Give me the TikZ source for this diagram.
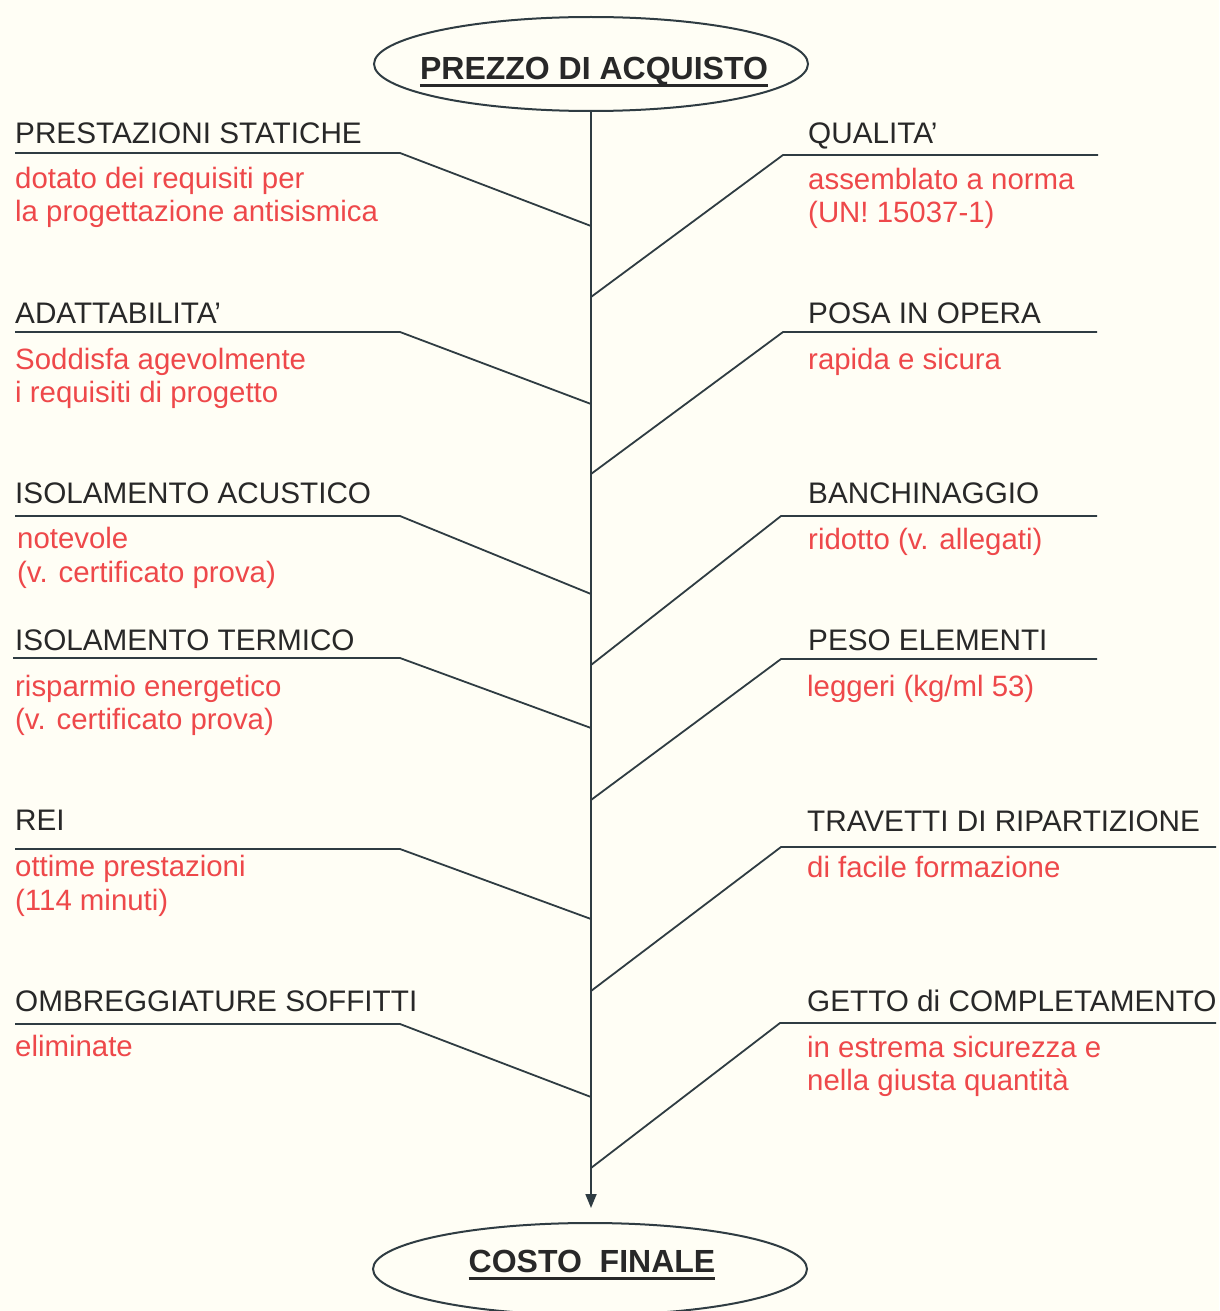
\documentclass[tikz,border=0pt]{standalone}
\usepackage{fontspec}
\setmainfont{Liberation Sans}
\usetikzlibrary{shapes.geometric,arrows.meta}
\definecolor{bg}{RGB}{255,254,245}
\definecolor{ln}{RGB}{47,60,66}
\definecolor{tx}{RGB}{40,40,40}
\definecolor{rd}{RGB}{238,72,74}
\begin{document}
\begin{tikzpicture}[x=1pt,y=-1pt,
 hdr/.style={anchor=base west,inner sep=0pt,text=tx,font=\fontsize{29.7}{34}\selectfont},
 note/.style={anchor=base west,inner sep=0pt,text=rd,font=\fontsize{29.4}{34}\selectfont},
 branch/.style={draw=ln,line width=1.8pt},
 oval/.style={ellipse,draw=ln,line width=2pt,minimum width=434pt,inner sep=0pt},
 title/.style={anchor=base,inner sep=0pt,text=tx,font=\bfseries\fontsize{32}{38}\selectfont},
 uline/.style={draw=tx,line width=3pt}]
\fill[bg] (0,0) rectangle (1219,1311);
\useasboundingbox (0,0) rectangle (1219,1311);

% ovals
\node[oval,minimum height=94pt] (top) at (591,64) {};
\node[title] (ttop) at (594,80) {PREZZO DI ACQUISTO};
\draw[uline] ([yshift=-6pt]ttop.base west) -- ([yshift=-6pt]ttop.base east);
\node[oval,minimum height=92pt] (bot) at (590,1269) {};
\node[title] (tbot) at (592,1272) {COSTO\ \ FINALE};
\draw[uline] ([yshift=-6pt]tbot.base west) -- ([yshift=-6pt]tbot.base east);

% spine
\coordinate (tip) at (591,1208);
\draw[branch,-{Triangle[width=11pt,length=14pt]}] (top.south) -- (tip);

% left branches
\coordinate (l1a) at (15,153);  \coordinate (l1b) at (400,153);  \coordinate (l1c) at (591,226);
\coordinate (l2a) at (15,332);  \coordinate (l2b) at (400,332);  \coordinate (l2c) at (591,404);
\coordinate (l3a) at (15,516);  \coordinate (l3b) at (400,516);  \coordinate (l3c) at (591,594);
\coordinate (l4a) at (13,658);  \coordinate (l4b) at (400,658);  \coordinate (l4c) at (591,728);
\coordinate (l5a) at (15,849);  \coordinate (l5b) at (400,849);  \coordinate (l5c) at (591,919);
\coordinate (l6a) at (15,1024); \coordinate (l6b) at (400,1024); \coordinate (l6c) at (591,1097);
\foreach \i in {1,...,6} {\draw[branch] (l\i a) -- (l\i b) -- (l\i c);}

% right branches
\coordinate (r1a) at (591,297);  \coordinate (r1b) at (783,155);  \coordinate (r1c) at (1098,155);
\coordinate (r2a) at (591,474);  \coordinate (r2b) at (783,332);  \coordinate (r2c) at (1097,332);
\coordinate (r3a) at (591,665);  \coordinate (r3b) at (781,516);  \coordinate (r3c) at (1097,516);
\coordinate (r4a) at (591,800);  \coordinate (r4b) at (781,659);  \coordinate (r4c) at (1097,659);
\coordinate (r5a) at (591,991);  \coordinate (r5b) at (781,847);  \coordinate (r5c) at (1216,847);
\coordinate (r6a) at (591,1168); \coordinate (r6b) at (780,1023); \coordinate (r6c) at (1216,1023);
\foreach \i in {1,...,6} {\draw[branch] (r\i a) -- (r\i b) -- (r\i c);}

% left texts
\node[hdr]  (lh1)  at (15,143) {PRESTAZIONI STATICHE};
\node[note] (ln1a) at (15,188) {dotato dei requisiti per};
\node[note] (ln1b) at (15,221) {la progettazione antisismica};
\node[hdr]  (lh2)  at (15,323) {ADATTABILITA’};
\node[note] (ln2a) at (15,369) {Soddisfa agevolmente};
\node[note] (ln2b) at (15,402) {i requisiti di progetto};
\node[hdr]  (lh3)  at (15,503) {ISOLAMENTO ACUSTICO};
\node[note] (ln3a) at (17,548) {notevole};
\node[note] (ln3b) at (17,582) {(v. certificato prova)};
\node[hdr]  (lh4)  at (15,650) {ISOLAMENTO TERMICO};
\node[note] (ln4a) at (15,696) {risparmio energetico};
\node[note] (ln4b) at (15,729) {(v. certificato prova)};
\node[hdr]  (lh5)  at (15,830) {REI};
\node[note] (ln5a) at (15,876) {ottime prestazioni};
\node[note] (ln5b) at (15,910) {(114 minuti)};
\node[hdr]  (lh6)  at (15,1011) {OMBREGGIATURE SOFFITTI};
\node[note] (ln6a) at (15,1056) {eliminate};

% right texts
\node[hdr]  (rh1)  at (808,143) {QUALITA’};
\node[note] (rn1a) at (808,189) {assemblato a norma};
\node[note] (rn1b) at (808,222) {(UN! 15037-1)};
\node[hdr]  (rh2)  at (808,323) {POSA IN OPERA};
\node[note] (rn2a) at (808,369) {rapida e sicura};
\node[hdr]  (rh3)  at (808,503) {BANCHINAGGIO};
\node[note] (rn3a) at (808,549) {ridotto (v. allegati)};
\node[hdr]  (rh4)  at (808,650) {PESO ELEMENTI};
\node[note] (rn4a) at (807,696) {leggeri (kg/ml 53)};
\node[hdr]  (rh5)  at (807,831) {TRAVETTI DI RIPARTIZIONE};
\node[note] (rn5a) at (807,877) {di facile formazione};
\node[hdr]  (rh6)  at (807,1011) {GETTO di COMPLETAMENTO};
\node[note] (rn6a) at (807,1057) {in estrema sicurezza e};
\node[note] (rn6b) at (807,1090) {nella giusta quantità};
\end{tikzpicture}
\end{document}
